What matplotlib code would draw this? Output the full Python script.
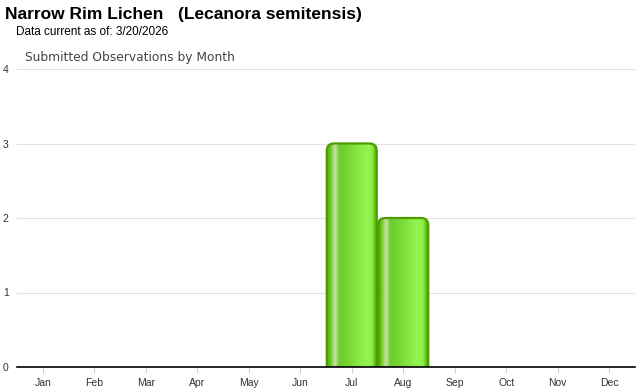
import numpy as np
import matplotlib.pyplot as plt
from matplotlib.patches import FancyBboxPatch
from matplotlib.colors import LinearSegmentedColormap

months = ['Jan', 'Feb', 'Mar', 'Apr', 'May', 'Jun', 'Jul', 'Aug', 'Sep', 'Oct', 'Nov', 'Dec']
counts = [0, 0, 0, 0, 0, 0, 3, 2, 0, 0, 0, 0]
y_ticks = [0, 1, 2, 3, 4]

title = "Narrow Rim Lichen   (Lecanora semitensis)"
subtitle = "Data current as of: 3/20/2026"
chart_title = "Submitted Observations by Month"

# horizontal gradient across each bar (glossy green look)
bar_cmap = LinearSegmentedColormap.from_list('gloss', [
    (0.00, '#52ac00'),
    (0.07, '#6cc828'),
    (0.16, '#c6e2a6'),
    (0.25, '#6ccb2c'),
    (0.45, '#78d836'),
    (0.78, '#92f452'),
    (0.90, '#8eee4c'),
    (0.96, '#66c41c'),
    (1.00, '#4a9e00'),
])

fig = plt.figure(figsize=(6.4, 3.9), dpi=100)
ax = fig.add_axes([17 / 640, 23 / 390, 618 / 640, 298 / 390])

ax.set_xlim(-0.5, 11.5)
ax.set_ylim(0, 4)

grad = np.linspace(0, 1, 256).reshape(1, -1)
width = 0.97
for i, v in enumerate(counts):
    if v <= 0:
        continue
    x0 = i - width / 2
    patch = FancyBboxPatch((x0, -0.3), width, v + 0.3,
                           boxstyle="round,pad=0,rounding_size=0.14",
                           mutation_aspect=0.69,
                           facecolor='none', edgecolor='#4c9c00',
                           linewidth=1.6, zorder=3)
    ax.add_patch(patch)
    im = ax.imshow(grad, extent=[x0, x0 + width, 0, v], cmap=bar_cmap,
                   aspect='auto', zorder=2, interpolation='bilinear')
    im.set_clip_path(patch)

ax.set_xlim(-0.5, 11.5)
ax.set_ylim(0, 4)

ax.set_yticks(y_ticks)
ax.set_yticklabels([str(t) for t in y_ticks])
ax.set_xticks(range(len(months)))
ax.set_xticklabels(months)
ax.tick_params(labelsize=7.5, labelcolor='#333333')
ax.tick_params(axis='y', length=0, pad=6)
ax.tick_params(axis='x', length=4, width=0.8, color='#d0d0d0', pad=4)
for lbl in ax.get_xticklabels() + ax.get_yticklabels():
    lbl.set_fontfamily('Liberation Sans')

ax.grid(axis='y', color='#e2e2e2', linewidth=0.8, zorder=0)
ax.set_axisbelow(True)
for side in ['top', 'right', 'left']:
    ax.spines[side].set_visible(False)
ax.spines['bottom'].set_color('black')
ax.spines['bottom'].set_linewidth(1.2)
ax.spines['bottom'].set_zorder(4)

fig.text(5 / 640, 1 - 15 / 390, title, fontsize=12.5, fontweight='bold',
         family='Liberation Sans', va='center', ha='left')
fig.text(16 / 640, 1 - 32 / 390, subtitle, fontsize=8.5,
         family='Liberation Sans', va='center', ha='left')
fig.text(25 / 640, 1 - 58 / 390, chart_title, fontsize=8.8, color='#444444',
         family='DejaVu Sans', va='center', ha='left')

fig.savefig('out.png', dpi=100)
